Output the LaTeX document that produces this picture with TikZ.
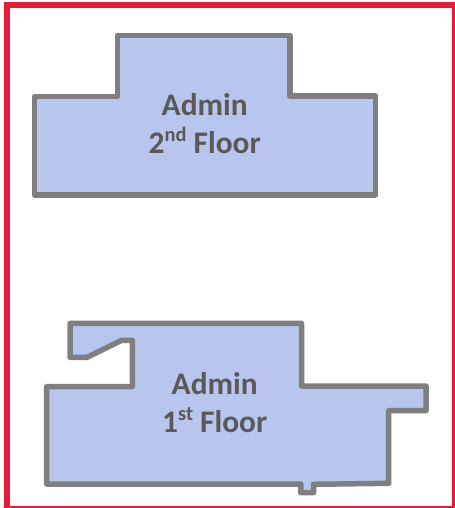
\documentclass[tikz,border=0pt]{standalone}
\usepackage{fontspec}
\setmainfont{Carlito}
\definecolor{roomfill}{HTML}{B8C5ED}
\definecolor{roomline}{HTML}{7F7F7F}
\definecolor{framered}{HTML}{EB1A35}
\definecolor{labelgray}{HTML}{595959}
\newcommand{\supt}[1]{\raisebox{0.75ex}{\fontsize{20.5}{20.5}\selectfont #1}}
\tikzset{
  room/.style={draw=roomline,fill=roomfill,line width=5.5bp,line join=round},
  floorlabel/.style={text=labelgray,font=\fontsize{31.5}{37.5}\selectfont\bfseries,align=center,inner sep=0pt},
  frameline/.style={draw=framered,line width=6bp,line join=miter}
}
\begin{document}
\begin{tikzpicture}[x=1bp,y=-1bp]
\useasboundingbox (0,0) rectangle (455,508);
\begin{scope}
\clip (0,0) rectangle (455,508);
\draw[frameline] (7.4,4.7) rectangle (455.3,509);
\end{scope}
\draw[room] (34.5,96.7) -- (117.5,96.7) -- (117.5,35.5) -- (290,35.5) -- (290,96) -- (375.7,96) -- (375.7,195) -- (34.5,195) -- cycle;
\draw[room] (70,323.4) -- (301.5,323.4) -- (301.5,386) -- (426,386) -- (426,410.7) -- (388.7,410.7) -- (388.7,483.3) -- (313.5,484.3) -- (313.5,492.7) -- (300.8,492.7) -- (300.8,484) -- (46.7,484) -- (46.7,386.7) -- (132.3,386.7) -- (132.3,340.3) -- (121.7,340.3) -- (87,357.3) -- (70,357.3) -- cycle;
\node[floorlabel] (second) at (204.7,123.7) {Admin\\2\supt{nd} Floor};
\node[floorlabel] (first) at (214.7,402.7) {Admin\\1\supt{st} Floor};
\end{tikzpicture}
\end{document}
